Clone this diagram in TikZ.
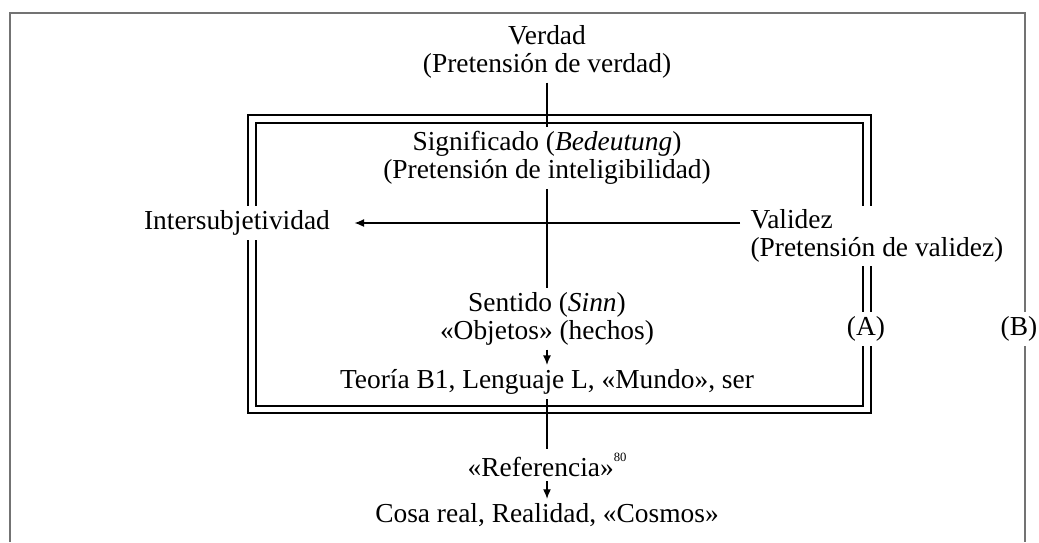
\documentclass[tikz,border=0pt]{standalone}
\usepackage{fontspec}
\setmainfont{Liberation Serif}
\usetikzlibrary{arrows.meta, positioning}

\begin{document}
\begin{tikzpicture}[
    x=0.025cm, y=-0.025cm, >={Latex[length=2.4mm,width=2mm]},
    lbl/.style={align=center, font=\fontsize{19.5}{19.5}\selectfont, inner sep=3pt},
    cutlbl/.style={lbl, fill=white},
    link/.style={line width=1pt},
    boxline/.style={line width=1.3pt}
  ]
  \useasboundingbox (0,0) rectangle (1039,542);

  % outer frame (B)
  \draw[black!55, line width=0.8pt] (10,542) |- (1025,13) -- (1025,542);

  % double frame (A)
  \draw[boxline] (248,115) rectangle (871,413);
  \draw[boxline] (256,123) rectangle (863,406);

  % claims and levels
  \node[lbl] (verdad) at (547,52) {Verdad\\(Pretensión de verdad)};
  \node[lbl] (signif) at (547,158)
    {Significado (\textit{Bedeutung})\\(Pretensión de inteligibilidad)};
  \node[lbl] (sentido) at (547,319)
    {Sentido (\textit{Sinn})\\«Objetos» (hechos)};
  \node[lbl] (teoria) at (547,382) {Teoría B1, Lenguaje L, «Mundo», ser};
  \node[lbl] (refer) at (547,465)
    {«Referencia»\raisebox{0.55em}{\fontsize{9}{9}\selectfont 80}};
  \node[lbl] (cosa) at (547,515) {Cosa real, Realidad, «Cosmos»};

  % side labels
  \node[cutlbl] (intersub) at (237,223) {Intersubjetividad};
  \node[cutlbl, align=left, anchor=west] (validez) at (746,236)
    {Validez\\(Pretensión de validez)};
  \node[cutlbl] (ka) at (866,329) {(A)};
  \node[cutlbl] (kb) at (1019,329) {(B)};

  \draw[link] (verdad) -- (signif);
  \draw[link] (signif) -- (sentido);
  \draw[link,->] (sentido) -- (teoria);
  \draw[link] (teoria) -- (refer);
  \draw[link,->] (refer) -- (cosa);
  \draw[link,->, shorten <=0.15cm, shorten >=0.5cm]
    (validez.west |- intersub.east) -- (intersub.east);
\end{tikzpicture}
\end{document}
